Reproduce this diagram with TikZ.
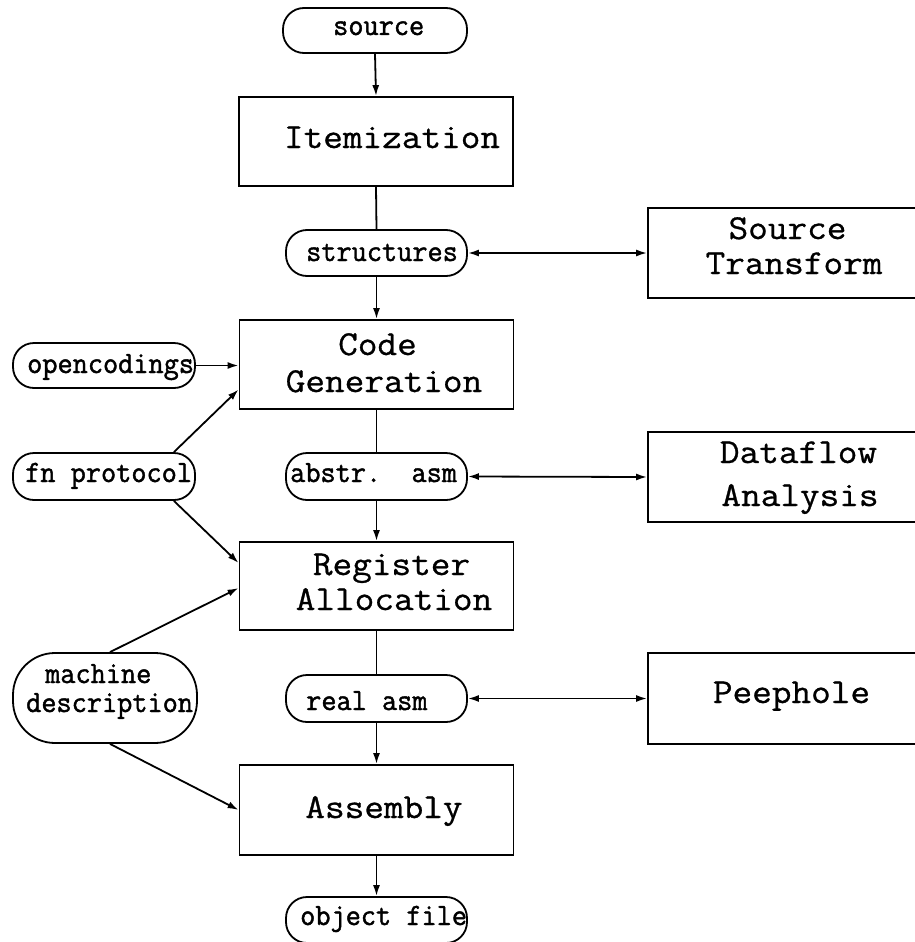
\documentclass[tikz,border=0pt]{standalone}
\usepackage{fontspec}
\usetikzlibrary{arrows.meta}
\newfontfamily\boxfamily{Latin Modern Mono}[FakeStretch=1.09,FakeBold=0.8]
\newfontfamily\pillfamily{Latin Modern Mono}[FakeStretch=0.95,FakeBold=1.4]
\newcommand\boxfont{\boxfamily\fontsize{35pt}{40pt}\selectfont}
\newcommand\pillfont{\pillfamily\fontsize{31pt}{36pt}\selectfont}
\begin{document}
\begin{tikzpicture}[x=1pt,y=-1pt,
  box/.style={draw, line width=1.8pt, minimum width=274pt, minimum height=89pt, inner sep=0pt},
  rbox/.style={draw, line width=1.8pt, minimum width=300pt, minimum height=90pt, inner sep=0pt},
  pill/.style={draw, line width=1.8pt, rounded corners=21pt, minimum width=181pt, minimum height=46pt, inner sep=0pt},
  big/.style={font=\boxfont, anchor=base, inner sep=0pt},
  small/.style={font=\pillfont, anchor=base west, inner sep=0pt},
  flow/.style={line width=1.8pt, -{Latex[length=11pt,width=7pt]}},
  link/.style={line width=1.8pt},
  both/.style={line width=1.8pt, {Latex[length=11pt,width=7pt]}-{Latex[length=11pt,width=7pt]}}]
\useasboundingbox (0,0) rectangle (915,942);
\clip (0,0) rectangle (915,942);

% main column of passes
\node[box, minimum height=89pt] (item) at (376,141.5) {};
\node[box] (cg)   at (376.5,364.5) {};
\node[box, minimum height=88pt] (reg)  at (376.5,586) {};
\node[box, minimum height=90pt] (asmb) at (376.5,810) {};

% side passes
\node[rbox] (st) at (798,253) {};
\node[rbox] (df) at (798,477) {};
\node[rbox, minimum height=91pt] (ph) at (798,698.5) {};

% data between the passes
\node[pill, minimum width=184pt, minimum height=45pt] (src) at (375,30.5) {};
\node[pill] (struct) at (376.5,253) {};
\node[pill, minimum width=182pt, minimum height=45pt] (opc) at (104,365.5) {};
\node[pill, minimum width=182pt, minimum height=47pt] (fn) at (104,476.5) {};
\node[pill, minimum height=47pt] (abs) at (376.5,476.5) {};
\node[pill, minimum width=184pt, minimum height=90pt, rounded corners=42pt] (md) at (105,698) {};
\node[pill, minimum height=47pt] (ra) at (376.5,698.5) {};
\node[pill] (obj) at (376.5,920) {};

% pass names
\node[big] (t-item) at (392,148) {Itemization};
\node[big] (t-cg1) at (377.5,355) {Code};
\node[big] (t-cg2) at (384,392) {Generation};
\node[big] (t-reg1) at (391.5,575) {Register};
\node[big] (t-reg2) at (394,610) {Allocation};
\node[big] (t-asm) at (384,818) {Assembly};
\node[big] (t-st1) at (787.5,239) {Source};
\node[big] (t-st2) at (794,274) {Transform};
\node[big] (t-df1) at (798.5,463) {Dataflow};
\node[big] (t-df2) at (800,506) {Analysis};
\node[big] (t-ph) at (791.5,703) {Peephole};

% data names
\node[small] (l-src) at (333,35) {source};
\node[small] (l-struct) at (306,261) {structures};
\node[small] (l-opc) at (27,373) {opencodings};
\node[small] (l-fn) at (25,482) {fn protocol};
\node[small] (l-abs) at (290,482) {abstr.\ \ asm};
\node[small] (l-md1) at (45,683) {machine};
\node[small] (l-md2) at (26,712) {description};
\node[small] (l-ra) at (306,710) {real asm};
\node[small] (l-obj) at (300,925) {object file};

% main flow
\draw[flow] (src.south) -- (item.north);
\draw[link] (item.south) -- (struct.north);
\draw[flow] (struct.south) -- (cg.north);
\draw[link] (cg.south) -- (abs.north);
\draw[flow] (abs.south) -- (reg.north);
\draw[link] (reg.south) -- (ra.north);
\draw[flow] (ra.south) -- (asmb.north);
\draw[flow] (asmb.south) -- (obj.north);

% side passes work on the intermediate forms
\draw[both] (struct.east) -- (st.west);
\draw[both] (abs.east) -- (df.west);
\draw[both] (ra.east) -- (ph.west);

% extra inputs
\draw[flow] (opc.east) -- (opc.east -| cg.west);
\draw[flow] ([xshift=-22pt]fn.north east) -- ([yshift=-25pt]cg.west);
\draw[flow] ([xshift=-22pt]fn.south east) -- ([yshift=23pt]reg.west);
\draw[flow] ([xshift=5pt]md.north) -- ([yshift=-2pt]reg.west);
\draw[flow] ([xshift=5pt]md.south) -- (asmb.west);
\end{tikzpicture}
\end{document}
